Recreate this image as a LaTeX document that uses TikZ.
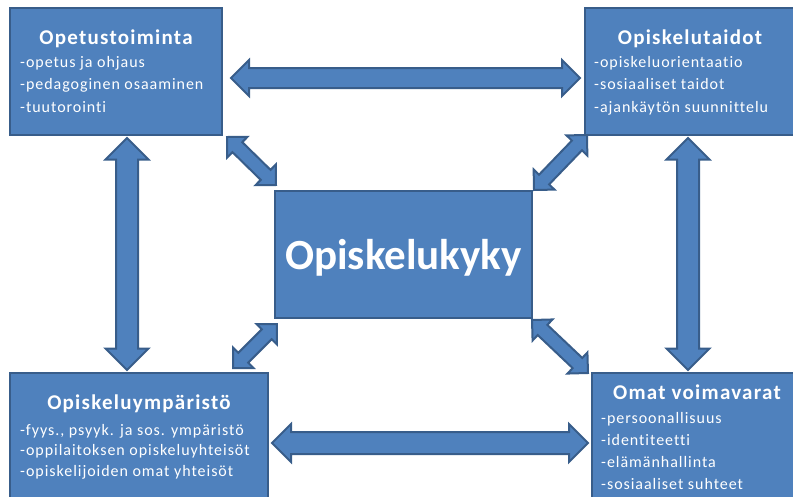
\documentclass[tikz,border=0pt]{standalone}
\usepackage{fontspec}
\setmainfont{Carlito}
\newfontfamily\spaced[LetterSpace=6, Ligatures=NoCommon]{Carlito}
\usetikzlibrary{shapes.arrows,calc}
\definecolor{boxblue}{HTML}{4F81BD}
\definecolor{edgeblue}{HTML}{385D8A}

\begin{document}
\begin{tikzpicture}[x=1pt, y=-1pt,
  boxnode/.style={draw=edgeblue, fill=boxblue, line width=2pt, inner sep=0pt},
  heading/.style={anchor=base, text=white, inner sep=0pt,
    font=\spaced\bfseries\fontsize{21}{25}\selectfont},
  item/.style={anchor=base west, text=white, inner sep=0pt,
    font=\spaced\fontsize{16}{19}\selectfont},
  dblarrow/.style 2 args={double arrow, draw=edgeblue, fill=boxblue, line width=2pt,
    inner xsep=0pt, inner ysep=#1, minimum width=0pt, double arrow head extend=#2}]
\clip (0,0) rectangle (793,496);
\useasboundingbox (0,0) rectangle (793,496);

% boxes
\node[boxnode, minimum width=212, minimum height=127] (opetus) at (116,71.5) {};
\node[boxnode, minimum width=215, minimum height=127] (taidot) at (692.5,71.5) {};
\node[boxnode, minimum width=258, minimum height=137] (ymparisto) at (139,441.5) {};
\node[boxnode, minimum width=210, minimum height=137] (voimat) at (697,441.5) {};
\node[boxnode, minimum width=257, minimum height=127] (kyky) at (403.5,254.5) {};

\node[text=white, anchor=base, inner sep=0pt, font=\bfseries\fontsize{43}{50}\selectfont]
  (kykyteksti) at (403.5,269) {Opiskelukyky};

% titles and lists
\node[heading] (opetusotsikko) at (116,44.5) {Opetustoiminta};
\foreach \t [count=\i] in {-opetus ja ohjaus, -pedagoginen osaaminen, -tuutorointi}
  \node[item] (opetus\i) at (20,44.5+22.5*\i) {\t};

\node[heading] (taidototsikko) at (690,44.5) {Opiskelutaidot};
\foreach \t [count=\i] in {-opiskeluorientaatio, -sosiaaliset taidot, -ajankäytön suunnittelu}
  \node[item] (taidot\i) at (594,44.5+22.5*\i) {\t};

\node[heading] (ymparistootsikko) at (139,409.5) {Opiskeluympäristö};
\foreach \t [count=\i] in {{-fyys., psyyk. ja sos. ympäristö}, -oppilaitoksen opiskeluyhteisöt, -opiskelijoiden omat yhteisöt}
  \node[item] (ymparisto\i) at (20,414.5+20.5*\i) {\t};

\node[heading] (voimatotsikko) at (697,399.5) {Omat voimavarat};
\foreach \t [count=\i] in {-persoonallisuus, -identiteetti, -elämänhallinta, -sosiaaliset suhteet}
  \node[item] (voimat\i) at (601,401+22*\i) {\t};

% arrow ends
\coordinate (ylav) at (231,78);   \coordinate (ylao) at (580,78);
\coordinate (alav) at (272,443);  \coordinate (alao) at (588,443);
\coordinate (vasy) at (127,138);  \coordinate (vasa) at (127,370);
\coordinate (oiky) at (688,138);  \coordinate (oika) at (688,370);
\coordinate (d1a) at (227,137);   \coordinate (d1b) at (276,185);
\coordinate (d2a) at (587,135);   \coordinate (d2b) at (534,190);
\coordinate (d3a) at (277,324);   \coordinate (d3b) at (233,368);
\coordinate (d4a) at (532,320);   \coordinate (d4b) at (588,373);

\foreach \a/\b/\s/\e in {ylav/ylao/9/8, alav/alao/10/8, vasy/vasa/10/10.5, oiky/oika/10/10.5,
    d1a/d1b/6/7.5, d2a/d2b/6/7.5, d3a/d3b/6/7.5, d4a/d4b/6/7.5}
  \path let \p1=($(\b)-(\a)$), \n1={veclen(\x1,\y1)}, \n2={atan2(\y1,\x1)} in
    node[dblarrow={\s}{\e}, minimum height=\n1, rotate=\n2] (\a\b) at ($(\a)!0.5!(\b)$) {};
\end{tikzpicture}
\end{document}
